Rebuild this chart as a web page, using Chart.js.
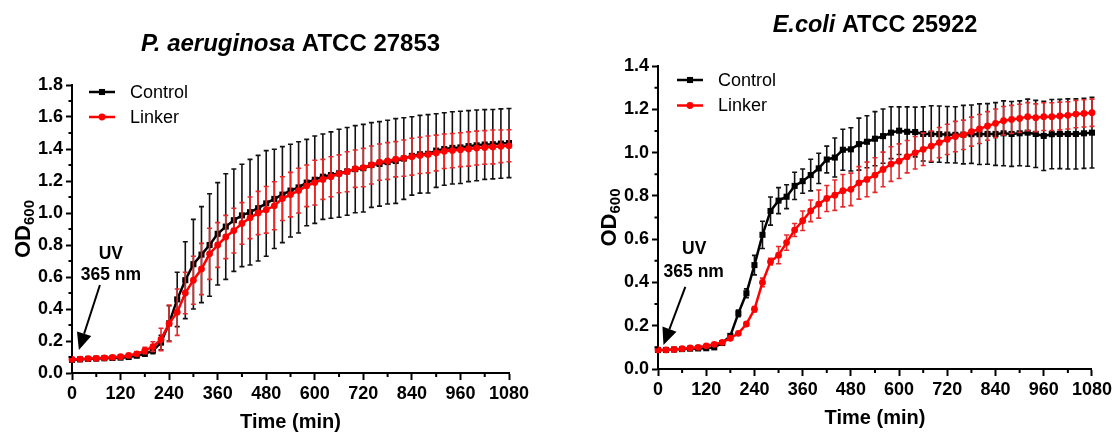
<!DOCTYPE html>
<html>
<head>
<meta charset="utf-8">
<script src="https://cdn.jsdelivr.net/npm/chart.js@4/dist/chart.umd.min.js"></script>
<style>
  html, body { margin: 0; padding: 0; background: #fff; }
  #wrap { position: relative; width: 1115px; height: 432px; }
  .box { position: absolute; top: 0; height: 432px; }
  #paBox { left: 0; width: 557px; }
  #ecBox { left: 557px; width: 558px; }
</style>
</head>
<body>
<div id="wrap">
  <div class="box" id="paBox"><canvas id="paChart"></canvas></div>
  <div class="box" id="ecBox"><canvas id="ecChart"></canvas></div>
</div>
<script>
// sampling times (min)
const times = [
  0, 20, 40, 60, 80, 100, 120, 140, 160, 180,
  200, 220, 240, 260, 280, 300, 320, 340, 360, 380,
  400, 420, 440, 460, 480, 500, 520, 540, 560, 580,
  600, 620, 640, 660, 680, 700, 720, 740, 760, 780,
  800, 820, 840, 860, 880, 900, 920, 940, 960, 980,
  1000, 1020, 1040, 1060, 1080
];
const xTicks = [0, 120, 240, 360, 480, 600, 720, 840, 960, 1080];
const paYTicks = [0, 0.2, 0.4, 0.6, 0.8, 1.0, 1.2, 1.4, 1.6, 1.8];
const ecYTicks = [0, 0.2, 0.4, 0.6, 0.8, 1.0, 1.2, 1.4];
const seriesNames = ["Control", "Linker"];

// P. aeruginosa ATCC 27853
const paControl = [
  0.082, 0.085, 0.088, 0.090, 0.092, 0.094, 0.096, 0.100, 0.108, 0.120,
  0.140, 0.190, 0.310, 0.460, 0.580, 0.680, 0.740, 0.800, 0.870, 0.915,
  0.955, 0.985, 1.005, 1.030, 1.060, 1.088, 1.115, 1.140, 1.160, 1.190,
  1.208, 1.227, 1.237, 1.248, 1.260, 1.274, 1.280, 1.300, 1.307, 1.318,
  1.325, 1.340, 1.357, 1.367, 1.370, 1.390, 1.400, 1.407, 1.410, 1.418,
  1.423, 1.428, 1.430, 1.434, 1.437
];
const paControlSd = [
  0.005, 0.005, 0.005, 0.005, 0.005, 0.005, 0.005, 0.005, 0.010, 0.015,
  0.020, 0.045, 0.110, 0.170, 0.240, 0.280, 0.300, 0.320, 0.320, 0.330,
  0.320, 0.320, 0.330, 0.330, 0.330, 0.310, 0.300, 0.290, 0.285, 0.270,
  0.273, 0.267, 0.270, 0.275, 0.274, 0.272, 0.274, 0.265, 0.264, 0.262,
  0.265, 0.255, 0.245, 0.243, 0.245, 0.230, 0.227, 0.226, 0.226, 0.222,
  0.221, 0.218, 0.217, 0.217, 0.216
];
const paLinker = [
  0.085, 0.087, 0.090, 0.092, 0.095, 0.098, 0.102, 0.110, 0.120, 0.140,
  0.165, 0.210, 0.310, 0.380, 0.500, 0.580, 0.650, 0.745, 0.800, 0.850,
  0.890, 0.935, 0.970, 1.000, 1.020, 1.045, 1.090, 1.115, 1.140, 1.170,
  1.190, 1.210, 1.227, 1.245, 1.258, 1.277, 1.284, 1.300, 1.318, 1.325,
  1.336, 1.343, 1.352, 1.360, 1.366, 1.375, 1.386, 1.390, 1.396, 1.400,
  1.406, 1.410, 1.413, 1.417, 1.420
];
const paLinkerSd = [
  0.005, 0.005, 0.005, 0.005, 0.005, 0.005, 0.005, 0.008, 0.012, 0.020,
  0.030, 0.070, 0.115, 0.145, 0.130, 0.150, 0.160, 0.160, 0.140, 0.135,
  0.140, 0.130, 0.130, 0.135, 0.146, 0.150, 0.137, 0.139, 0.140, 0.130,
  0.140, 0.125, 0.125, 0.118, 0.125, 0.117, 0.120, 0.119, 0.113, 0.115,
  0.110, 0.113, 0.115, 0.113, 0.115, 0.112, 0.108, 0.107, 0.106, 0.107,
  0.106, 0.105, 0.106, 0.102, 0.100
];

// E. coli ATCC 25922
const ecControl = [
  0.088, 0.088, 0.090, 0.092, 0.094, 0.095, 0.096, 0.100, 0.120, 0.153,
  0.257, 0.350, 0.480, 0.620, 0.730, 0.778, 0.796, 0.846, 0.868, 0.896,
  0.927, 0.968, 0.977, 1.013, 1.015, 1.039, 1.050, 1.064, 1.076, 1.092,
  1.101, 1.096, 1.095, 1.086, 1.086, 1.085, 1.083, 1.082, 1.083, 1.085,
  1.085, 1.086, 1.086, 1.089, 1.086, 1.089, 1.092, 1.086, 1.077, 1.085,
  1.086, 1.086, 1.086, 1.089, 1.092
];
const ecControlSd = [
  0.005, 0.005, 0.005, 0.005, 0.005, 0.005, 0.005, 0.005, 0.005, 0.010,
  0.015, 0.020, 0.045, 0.063, 0.065, 0.060, 0.055, 0.063, 0.056, 0.073,
  0.070, 0.062, 0.090, 0.095, 0.100, 0.120, 0.120, 0.125, 0.125, 0.120,
  0.110, 0.115, 0.115, 0.125, 0.130, 0.130, 0.130, 0.130, 0.135, 0.135,
  0.140, 0.140, 0.145, 0.150, 0.150, 0.150, 0.155, 0.155, 0.160, 0.160,
  0.160, 0.162, 0.162, 0.162, 0.163
];
const ecLinker = [
  0.088, 0.088, 0.090, 0.094, 0.097, 0.100, 0.107, 0.114, 0.123, 0.142,
  0.165, 0.208, 0.276, 0.400, 0.496, 0.526, 0.584, 0.642, 0.685, 0.731,
  0.762, 0.788, 0.803, 0.824, 0.830, 0.860, 0.876, 0.896, 0.922, 0.947,
  0.960, 0.981, 0.999, 1.015, 1.030, 1.046, 1.061, 1.074, 1.082, 1.097,
  1.109, 1.123, 1.135, 1.147, 1.153, 1.158, 1.166, 1.161, 1.166, 1.166,
  1.169, 1.172, 1.178, 1.181, 1.184
];
const ecLinkerSd = [
  0.005, 0.005, 0.005, 0.005, 0.005, 0.005, 0.005, 0.005, 0.005, 0.005,
  0.005, 0.010, 0.012, 0.020, 0.015, 0.040, 0.035, 0.030, 0.045, 0.050,
  0.065, 0.060, 0.070, 0.075, 0.075, 0.075, 0.080, 0.080, 0.080, 0.080,
  0.080, 0.075, 0.075, 0.075, 0.070, 0.070, 0.070, 0.070, 0.068, 0.067,
  0.067, 0.066, 0.066, 0.066, 0.065, 0.065, 0.065, 0.064, 0.064, 0.064,
  0.064, 0.063, 0.063, 0.063, 0.063
];

const FAMILY = '"Liberation Sans", Arial, Helvetica, sans-serif';
const RED = "#ff0000";
const RED_BAR = "#e82828";

function toPoints(values) {
  return times.map(function (t, i) { return { x: t, y: values[i] }; });
}

function makeChart(cfg) {
  const errors = [cfg.controlSd, cfg.linkerSd];
  const barColors = ["#111", RED_BAR];

  const decor = {
    id: "decor",
    beforeDatasetDraw(chart, args) {
      const sd = errors[args.index];
      const src = chart.data.datasets[args.index].data;
      const y = chart.scales.y;
      const ctx = chart.ctx;
      ctx.save();
      ctx.strokeStyle = barColors[args.index];
      ctx.lineWidth = 1.6;
      args.meta.data.forEach(function (pt, i) {
        const top = y.getPixelForValue(src[i].y + sd[i]);
        const bot = y.getPixelForValue(src[i].y - sd[i]);
        ctx.beginPath();
        ctx.moveTo(pt.x, top); ctx.lineTo(pt.x, bot);
        ctx.moveTo(pt.x - 2.5, top); ctx.lineTo(pt.x + 2.5, top);
        ctx.moveTo(pt.x - 2.5, bot); ctx.lineTo(pt.x + 2.5, bot);
        ctx.stroke();
      });
      ctx.restore();
    },
    afterDraw(chart) {
      const ctx = chart.ctx;
      const a = chart.chartArea;
      const xs = chart.scales.x, ys = chart.scales.y;
      ctx.save();
      ctx.fillStyle = "#000";
      ctx.strokeStyle = "#000";

      // minor ticks
      ctx.lineWidth = 2;
      ctx.beginPath();
      for (let i = 0; i < xTicks.length - 1; i++) {
        const px = xs.getPixelForValue((xTicks[i] + xTicks[i + 1]) / 2);
        ctx.moveTo(px, a.bottom); ctx.lineTo(px, a.bottom + 4);
      }
      for (let i = 0; i < cfg.yTicks.length - 1; i++) {
        const py = ys.getPixelForValue((cfg.yTicks[i] + cfg.yTicks[i + 1]) / 2);
        ctx.moveTo(a.left, py); ctx.lineTo(a.left - 3.5, py);
      }
      ctx.stroke();

      // title (italic species name + bold strain)
      ctx.textBaseline = "alphabetic";
      ctx.textAlign = "left";
      const fItal = "italic bold " + cfg.titleSize + "px " + FAMILY;
      const fBold = "bold " + cfg.titleSize + "px " + FAMILY;
      ctx.font = fItal; const w1 = ctx.measureText(cfg.titleItalic).width;
      ctx.font = fBold; const w2 = ctx.measureText(cfg.titleBold).width;
      const tx = (a.left + a.right) / 2 - (w1 + w2) / 2;
      const ty = a.top - 34;
      ctx.font = fItal; ctx.fillText(cfg.titleItalic, tx, ty);
      ctx.font = fBold; ctx.fillText(cfg.titleBold, tx + w1, ty);

      // x axis title
      ctx.textAlign = "center";
      ctx.textBaseline = "middle";
      ctx.font = "bold 20px " + FAMILY;
      ctx.fillText("Time (min)", (a.left + a.right) / 2, a.bottom + 49);

      // y axis title OD600
      ctx.save();
      ctx.translate(a.left - 50, (a.top + a.bottom) / 2);
      ctx.rotate(-Math.PI / 2);
      ctx.textAlign = "left";
      ctx.textBaseline = "alphabetic";
      ctx.font = "bold 22px " + FAMILY; const o1 = ctx.measureText("OD").width;
      ctx.font = "bold 15px " + FAMILY; const o2 = ctx.measureText("600").width;
      const ox = -(o1 + o2) / 2;
      ctx.font = "bold 22px " + FAMILY; ctx.fillText("OD", ox, 8);
      ctx.font = "bold 15px " + FAMILY; ctx.fillText("600", ox + o1, 12);
      ctx.restore();

      // legend
      chart.data.datasets.forEach(function (ds, i) {
        const ly = a.top + cfg.legendY[i];
        const lx0 = a.left + cfg.legendX[0], lx1 = a.left + cfg.legendX[1];
        ctx.strokeStyle = ds.borderColor;
        ctx.fillStyle = ds.backgroundColor;
        ctx.lineWidth = 2.5;
        ctx.beginPath(); ctx.moveTo(lx0, ly); ctx.lineTo(lx1, ly); ctx.stroke();
        Chart.helpers.drawPoint(ctx, { pointStyle: ds.pointStyle, radius: ds.pointRadius, borderWidth: 0 }, (lx0 + lx1) / 2, ly);
        ctx.fillStyle = "#000";
        ctx.textAlign = "left";
        ctx.textBaseline = "middle";
        ctx.font = "18px " + FAMILY;
        ctx.fillText(ds.label, a.left + cfg.legendX[2], ly + 1);
      });

      // UV annotation with arrow
      const an = cfg.annot;
      ctx.fillStyle = "#000";
      ctx.strokeStyle = "#000";
      ctx.textAlign = "center";
      ctx.textBaseline = "middle";
      ctx.font = "bold 17.5px " + FAMILY;
      ctx.fillText("UV", xs.getPixelForValue(an.uv[0]), ys.getPixelForValue(an.uv[1]));
      ctx.fillText("365 nm", xs.getPixelForValue(an.nm[0]), ys.getPixelForValue(an.nm[1]));
      const tipX = xs.getPixelForValue(an.tip[0]), tipY = ys.getPixelForValue(an.tip[1]);
      const tailX = xs.getPixelForValue(an.tail[0]), tailY = ys.getPixelForValue(an.tail[1]);
      const dx = tipX - tailX, dy = tipY - tailY;
      const len = Math.sqrt(dx * dx + dy * dy);
      const ux = dx / len, uy = dy / len;
      const headL = 17, headW = 7.5;
      const bx = tipX - ux * headL, by = tipY - uy * headL;
      ctx.lineWidth = 2;
      ctx.beginPath(); ctx.moveTo(tailX, tailY); ctx.lineTo(bx, by); ctx.stroke();
      ctx.beginPath();
      ctx.moveTo(tipX, tipY);
      ctx.lineTo(bx - uy * headW, by + ux * headW);
      ctx.lineTo(bx + uy * headW, by - ux * headW);
      ctx.closePath();
      ctx.fill();
      ctx.restore();
    }
  };

  const tickFont = { family: FAMILY, size: 18, weight: "bold" };

  return new Chart(document.getElementById(cfg.canvas), {
    type: "line",
    data: {
      datasets: [
        {
          label: seriesNames[0],
          data: toPoints(cfg.control),
          borderColor: "#000",
          backgroundColor: "#000",
          borderWidth: 2.5,
          pointStyle: "rect",
          pointRadius: 4.3,
          pointBorderWidth: 0,
          order: 1,
          clip: false,
        },
        {
          label: seriesNames[1],
          data: toPoints(cfg.linker),
          borderColor: RED,
          backgroundColor: RED,
          borderWidth: 2.5,
          pointStyle: "circle",
          pointRadius: 3.4,
          pointBorderWidth: 0,
          order: 0,
          clip: false,
        },
      ],
    },
    options: {
      responsive: true,
      maintainAspectRatio: false,
      animation: false,
      layout: { padding: cfg.padding },
      plugins: { legend: { display: false }, tooltip: { enabled: false } },
      scales: {
        x: {
          type: "linear",
          min: 0,
          max: 1080,
          afterBuildTicks: function (s) { s.ticks = xTicks.map(function (v) { return { value: v }; }); },
          afterFit: function (s) { s.height = cfg.xHeight; },
          ticks: {
            font: tickFont, color: "#000", padding: 3, maxRotation: 0, autoSkip: false,
            callback: function (v) { return String(v); },
          },
          grid: { drawOnChartArea: false, tickLength: 7, tickWidth: 2, tickColor: "#000" },
          border: { color: "#000", width: 2 },
        },
        y: {
          min: 0,
          max: cfg.yTicks[cfg.yTicks.length - 1],
          afterBuildTicks: function (s) { s.ticks = cfg.yTicks.map(function (v) { return { value: v }; }); },
          afterFit: function (s) { s.width = cfg.yWidth; },
          ticks: {
            font: tickFont, color: "#000", padding: 3,
            callback: function (v) { return Number(v).toFixed(1); },
          },
          grid: { drawOnChartArea: false, tickLength: 6, tickWidth: 2, tickColor: "#000" },
          border: { color: "#000", width: 2 },
        },
      },
    },
    plugins: [decor],
  });
}

makeChart({
  canvas: "paChart",
  titleItalic: "P. aeruginosa",
  titleBold: " ATCC 27853",
  titleSize: 24,
  yTicks: paYTicks,
  control: paControl, controlSd: paControlSd,
  linker: paLinker, linkerSd: paLinkerSd,
  padding: { left: 0, right: 48, top: 85, bottom: 0 },
  yWidth: 72,
  xHeight: 59,
  legendX: [17, 43, 58],
  legendY: [7, 32],
  annot: { tip: [17, 0.144], tail: [69, 0.55], uv: [96, 0.744], nm: [96, 0.61] },
});

makeChart({
  canvas: "ecChart",
  titleItalic: "E.coli",
  titleBold: " ATCC 25922",
  titleSize: 23.5,
  yTicks: ecYTicks,
  control: ecControl, controlSd: ecControlSd,
  linker: ecLinker, linkerSd: ecLinkerSd,
  padding: { left: 29, right: 22, top: 66, bottom: 0 },
  yWidth: 72,
  xHeight: 63,
  legendX: [19, 45, 60],
  legendY: [14, 39.5],
  annot: { tip: [13.6, 0.111], tail: [68, 0.379], uv: [90, 0.552], nm: [89, 0.446] },
});
</script>
</body>
</html>
